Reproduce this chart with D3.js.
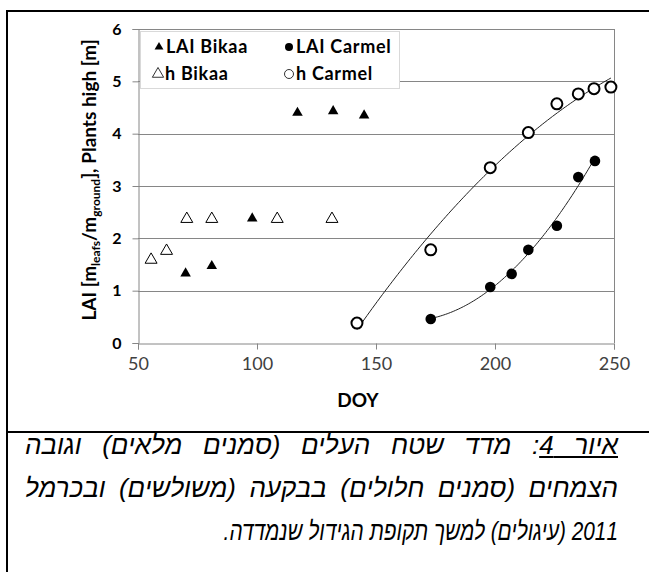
<!DOCTYPE html>
<html><head><meta charset="utf-8">
<script src="https://cdn.jsdelivr.net/npm/d3@7"></script>
<style>
html,body{margin:0;padding:0;background:#fff;}
#wrap{position:relative;width:649px;height:572px;overflow:hidden;}
svg{position:absolute;left:0;top:0;}
.cap{position:absolute;left:25px;width:593px;direction:rtl;font-family:"Liberation Sans","DejaVu Sans",sans-serif;font-style:italic;font-size:26px;line-height:43px;color:#000;white-space:nowrap;}
.just{text-align:justify;text-align-last:justify;}
.right{text-align:right;transform:scaleX(0.8);transform-origin:right center;}
</style></head>
<body><div id="wrap"></div>
<script>
// ---- data ----
const laiBikaaDoy = [70, 81, 98, 117, 132, 145];
const laiBikaaVal = [1.33, 1.47, 2.38, 4.40, 4.43, 4.35];
const hBikaaDoy = [55.5, 62, 70.5, 81, 108.5, 131.5];
const hBikaaVal = [1.59, 1.76, 2.37, 2.37, 2.37, 2.37];
const laiCarmelDoy = [173, 198, 207, 214, 226, 235, 242];
const laiCarmelVal = [0.46, 1.07, 1.32, 1.78, 2.24, 3.17, 3.48];
const hCarmelDoy = [142, 173, 198, 214, 226, 235, 241.6, 248.7];
const hCarmelVal = [0.38, 1.78, 3.35, 4.02, 4.57, 4.76, 4.86, 4.89];
const xTicks = [50, 100, 150, 200, 250];
const yTicks = [0, 1, 2, 3, 4, 5, 6];
const legendLabels = ["LAI Bikaa", "LAI Carmel", "h Bikaa", "h Carmel"];
const captionLines = [
  "מדד שטח העלים (סמנים מלאים) וגובה",
  "הצמחים (סמנים חלולים) בבקעה (משולשים) ובכרמל",
  "2011 (עיגולים) למשך תקופת הגידול שנמדדה."
];
const captionLabel = "איור 4";

// ---- layout ----
const W = 649, H = 572;
const FONT = "Lato, 'Open Sans', sans-serif";
const wrap = d3.select("#wrap");
const svg = wrap.append("svg").attr("width", W).attr("height", H);
const x = d3.scaleLinear().domain([50, 250]).range([138, 614]);
const y = d3.scaleLinear().domain([0, 6]).range([343, 29]);
const grid = "#868686";

// frame lines
svg.append("line").attr("x1", 6).attr("x2", 649).attr("y1", 11).attr("y2", 11).attr("stroke", "#000").attr("stroke-width", 2);
svg.append("line").attr("x1", 7).attr("x2", 7).attr("y1", 10).attr("y2", 572).attr("stroke", "#000").attr("stroke-width", 2);
svg.append("line").attr("x1", 6).attr("x2", 649).attr("y1", 432).attr("y2", 432).attr("stroke", "#000").attr("stroke-width", 2);

// gridlines
svg.append("g").selectAll("line").data(yTicks.filter(d => d > 0)).join("line")
  .attr("x1", x(50)).attr("x2", x(250))
  .attr("y1", d => Math.round(y(d)) + 0.5).attr("y2", d => Math.round(y(d)) + 0.5)
  .attr("stroke", grid).attr("stroke-width", 1);
svg.append("line").attr("x1", x(250) + 0.5).attr("x2", x(250) + 0.5).attr("y1", y(6)).attr("y2", y(0))
  .attr("stroke", grid);

// axes
const yAxis = d3.axisLeft(y).tickValues(yTicks).tickSize(6).tickPadding(11).tickFormat(d3.format("d"));
const gy = svg.append("g").attr("transform", `translate(${x(50) + 0.5},0)`).call(yAxis);
gy.select(".domain").attr("stroke", grid);
gy.selectAll(".tick line").attr("stroke", grid);
gy.selectAll("text").attr("font-family", FONT).attr("font-weight", "bold")
  .attr("font-size", 16).attr("fill", "#000");

const xAxis = d3.axisBottom(x).tickValues(xTicks).tickSize(6).tickPadding(8).tickFormat(d3.format("d"));
const gx = svg.append("g").attr("transform", `translate(0,${Math.round(y(0)) + 0.5})`).call(xAxis);
gx.select(".domain").attr("stroke", grid);
gx.selectAll(".tick line").attr("stroke", grid);
gx.selectAll("text").attr("font-family", FONT)
  .attr("font-size", 18).attr("fill", "#404040");

// axis titles
svg.append("text").attr("x", 358).attr("y", 407).attr("text-anchor", "middle")
  .attr("font-family", FONT).attr("font-weight", "bold").attr("font-size", 19)
  .text("DOY");
const yt = svg.append("text").attr("transform", "translate(96,180) rotate(-90)").attr("text-anchor", "middle")
  .attr("font-family", FONT).attr("font-weight", "bold").attr("font-size", 19);
yt.append("tspan").text("LAI [m");
yt.append("tspan").attr("font-size", 12).attr("dy", 4).text("leafs");
yt.append("tspan").attr("dy", -4).text("/m");
yt.append("tspan").attr("font-size", 12).attr("dy", 4).text("ground");
yt.append("tspan").attr("dy", -4).text("], Plants high [m]");

// polynomial (order 2) least-squares trendline
function polyFit(xs, ys) {
  let S = [0,0,0,0,0], T = [0,0,0];
  xs.forEach((xv, i) => {
    for (let k = 0; k < 5; k++) S[k] += Math.pow(xv, k);
    for (let k = 0; k < 3; k++) T[k] += ys[i] * Math.pow(xv, k);
  });
  const A = [[S[0],S[1],S[2],T[0]],[S[1],S[2],S[3],T[1]],[S[2],S[3],S[4],T[2]]];
  for (let i = 0; i < 3; i++) {
    for (let j = i + 1; j < 3; j++) {
      const f = A[j][i] / A[i][i];
      for (let k = i; k < 4; k++) A[j][k] -= f * A[i][k];
    }
  }
  const c = [0,0,0];
  for (let i = 2; i >= 0; i--) {
    let s = A[i][3];
    for (let k = i + 1; k < 3; k++) s -= A[i][k] * c[k];
    c[i] = s / A[i][i];
  }
  return v => c[0] + c[1] * v + c[2] * v * v;
}
function trend(xs, ys) {
  const f = polyFit(xs, ys);
  const lo = d3.min(xs), hi = d3.max(xs);
  const pts = d3.range(0, 101).map(i => lo + (hi - lo) * i / 100);
  svg.append("path").attr("d", d3.line().x(d => x(d)).y(d => y(f(d)))(pts))
    .attr("fill", "none").attr("stroke", "#222").attr("stroke-width", 1);
}
trend(hCarmelDoy, hCarmelVal);
trend(laiCarmelDoy, laiCarmelVal);

// markers
const triFilled = d3.symbol(d3.symbolTriangle, 48);
const triOpen = d3.symbol(d3.symbolTriangle, 62);
function pairs(a, b) { return a.map((v, i) => [v, b[i]]); }

svg.append("g").selectAll("path").data(pairs(hBikaaDoy, hBikaaVal)).join("path")
  .attr("d", triOpen).attr("transform", d => `translate(${x(d[0])},${y(d[1])})`)
  .attr("fill", "#fff").attr("stroke", "#000").attr("stroke-width", 1);
svg.append("g").selectAll("path").data(pairs(laiBikaaDoy, laiBikaaVal)).join("path")
  .attr("d", triFilled).attr("transform", d => `translate(${x(d[0])},${y(d[1])})`)
  .attr("fill", "#000");
svg.append("g").selectAll("circle").data(pairs(hCarmelDoy, hCarmelVal)).join("circle")
  .attr("cx", d => x(d[0])).attr("cy", d => y(d[1])).attr("r", 5.5)
  .attr("fill", "#fff").attr("stroke", "#000").attr("stroke-width", 2);
svg.append("g").selectAll("circle").data(pairs(laiCarmelDoy, laiCarmelVal)).join("circle")
  .attr("cx", d => x(d[0])).attr("cy", d => y(d[1])).attr("r", 5.3)
  .attr("fill", "#000");

// legend
const lg = svg.append("g");
lg.append("rect").attr("x", 140.5).attr("y", 31.5).attr("width", 259).attr("height", 57)
  .attr("fill", "#fff").attr("stroke", "#d9d9d9");
const legendItems = [
  {label: legendLabels[0], mx: 159, my: 47, kind: "triF"},
  {label: legendLabels[1], mx: 289, my: 47, kind: "cirF"},
  {label: legendLabels[2], mx: 158, my: 74, kind: "triO"},
  {label: legendLabels[3], mx: 289, my: 74, kind: "cirO"}
];
legendItems.forEach(it => {
  if (it.kind === "triF") lg.append("path").attr("d", d3.symbol(d3.symbolTriangle, 34)()).attr("transform", `translate(${it.mx},${it.my})`).attr("fill", "#000");
  if (it.kind === "triO") lg.append("path").attr("d", d3.symbol(d3.symbolTriangle, 55)()).attr("transform", `translate(${it.mx},${it.my})`).attr("fill", "none").attr("stroke", "#000").attr("stroke-width", 0.8);
  if (it.kind === "cirF") lg.append("circle").attr("cx", it.mx).attr("cy", it.my).attr("r", 4).attr("fill", "#000");
  if (it.kind === "cirO") lg.append("circle").attr("cx", it.mx).attr("cy", it.my).attr("r", 4.5).attr("fill", "none").attr("stroke", "#000").attr("stroke-width", 0.8);
  lg.append("text").attr("x", it.mx + 7).attr("y", it.my + 6)
    .attr("font-family", FONT).attr("font-weight", "bold").attr("font-size", 18)
    .attr("letter-spacing", 0.7)
    .text(it.label);
});

// caption
const c1 = wrap.append("div").attr("class", "cap just").style("top", "424px");
c1.append("span").style("text-decoration", "underline").text(captionLabel);
c1.append("span").text(": " + captionLines[0]);
wrap.append("div").attr("class", "cap just").style("top", "467px").text(captionLines[1]);
wrap.append("div").attr("class", "cap right").style("top", "510px").text(captionLines[2]);
</script></body></html>
